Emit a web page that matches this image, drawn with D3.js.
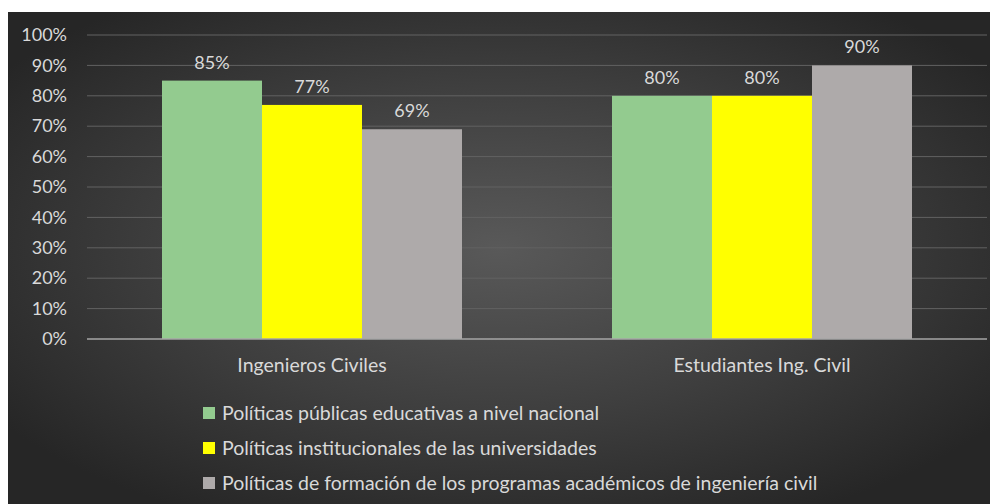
<!DOCTYPE html>
<html>
<head>
<meta charset="utf-8">
<script src="https://cdn.jsdelivr.net/npm/d3@7"></script>
<style>
  body { margin: 0; background: #fff; }
  text { font-family: Lato, "Open Sans", sans-serif; fill: #d9d9d9; }
</style>
</head>
<body>
<svg id="chart" width="993" height="504"></svg>
<script>
var categories = ["Ingenieros Civiles", "Estudiantes Ing. Civil"];
var seriesNames = [
  "Políticas públicas educativas a nivel nacional",
  "Políticas institucionales de las universidades",
  "Políticas de formación de los programas académicos de ingeniería civil"
];
var seriesColors = ["#93cb8f", "#ffff00", "#aeaaaa"];
// values per series, one per category
var publicas = [0.85, 0.80];
var institucionales = [0.77, 0.80];
var formacion = [0.69, 0.90];
var yTicks = [0, 0.1, 0.2, 0.3, 0.4, 0.5, 0.6, 0.7, 0.8, 0.9, 1.0];

var values = [publicas, institucionales, formacion];

var width = 993, height = 504;
var margin = {top: 35, right: 6, bottom: 165, left: 87};
var plotW = width - margin.left - margin.right,
    plotH = height - margin.top - margin.bottom;

var svg = d3.select("#chart");

var defs = svg.append("defs");
var grad = defs.append("radialGradient")
  .attr("id", "bg")
  .attr("cx", "50%").attr("cy", "48%").attr("r", "62%");
grad.append("stop").attr("offset", "0%").attr("stop-color", "#595959");
grad.append("stop").attr("offset", "55%").attr("stop-color", "#3e3e3e");
grad.append("stop").attr("offset", "100%").attr("stop-color", "#262626");

svg.append("rect")
  .attr("x", 8).attr("y", 12)
  .attr("width", 982).attr("height", 492)
  .attr("fill", "url(#bg)");

var x0 = d3.scaleBand()
  .domain(categories)
  .range([margin.left, margin.left + plotW])
  .paddingInner(1/3)
  .paddingOuter(1/6);

var x1 = d3.scaleBand()
  .domain(d3.range(seriesNames.length))
  .range([0, x0.bandwidth()]);

var y = d3.scaleLinear()
  .domain([0, 1])
  .range([margin.top + plotH, margin.top]);

// gridlines
svg.append("g")
  .selectAll("line")
  .data(yTicks.slice(1))
  .enter().append("line")
  .attr("x1", margin.left).attr("x2", margin.left + plotW)
  .attr("y1", function(d) { return y(d); })
  .attr("y2", function(d) { return y(d); })
  .attr("stroke", "#626262")
  .attr("stroke-width", 1);

// y axis
var yAxis = d3.axisLeft(y)
  .tickValues(yTicks)
  .tickFormat(d3.format(".0%"))
  .tickSize(0)
  .tickPadding(20);

var yg = svg.append("g")
  .attr("transform", "translate(" + margin.left + ",0)")
  .call(yAxis);
yg.select(".domain").remove();
yg.selectAll("text")
  .attr("fill", "#d9d9d9")
  .style("font-size", "18px")
  .style("font-family", "Lato, 'Open Sans', sans-serif");

// bars
var groups = svg.append("g")
  .selectAll("g")
  .data(categories)
  .enter().append("g")
  .attr("transform", function(d) { return "translate(" + x0(d) + ",0)"; });

groups.selectAll("rect")
  .data(function(d, ci) {
    return values.map(function(s, si) { return {si: si, v: s[ci]}; });
  })
  .enter().append("rect")
  .attr("x", function(d) { return x1(d.si); })
  .attr("width", x1.bandwidth())
  .attr("y", function(d) { return y(d.v); })
  .attr("height", function(d) { return y(0) - y(d.v); })
  .attr("fill", function(d) { return seriesColors[d.si]; });

groups.selectAll("text.lbl")
  .data(function(d, ci) {
    return values.map(function(s, si) { return {si: si, v: s[ci]}; });
  })
  .enter().append("text")
  .attr("class", "lbl")
  .attr("x", function(d) { return x1(d.si) + x1.bandwidth() / 2; })
  .attr("y", function(d) { return y(d.v) - 12; })
  .attr("text-anchor", "middle")
  .style("font-size", "18px")
  .text(function(d) { return d3.format(".0%")(d.v); });

// x axis line
svg.append("line")
  .attr("x1", margin.left).attr("x2", margin.left + plotW)
  .attr("y1", y(0)).attr("y2", y(0))
  .attr("stroke", "#a6a6a6")
  .attr("stroke-width", 1.5);

// category labels
var xAxis = d3.axisBottom(x0).tickSize(0).tickPadding(19);
var xg = svg.append("g")
  .attr("transform", "translate(0," + y(0) + ")")
  .call(xAxis);
xg.select(".domain").remove();
xg.selectAll("text")
  .attr("fill", "#d9d9d9")
  .style("font-size", "19.5px")
  .style("font-family", "Lato, 'Open Sans', sans-serif");

// legend
var legend = svg.append("g")
  .attr("transform", "translate(203,413)");
var items = legend.selectAll("g")
  .data(seriesNames)
  .enter().append("g")
  .attr("transform", function(d, i) { return "translate(0," + (i * 35) + ")"; });
items.append("rect")
  .attr("x", 0).attr("y", -6)
  .attr("width", 12).attr("height", 12)
  .attr("fill", function(d, i) { return seriesColors[i]; });
items.append("text")
  .attr("x", 19).attr("y", 7)
  .style("font-size", "19.5px")
  .text(function(d) { return d; });
</script>
</body>
</html>
